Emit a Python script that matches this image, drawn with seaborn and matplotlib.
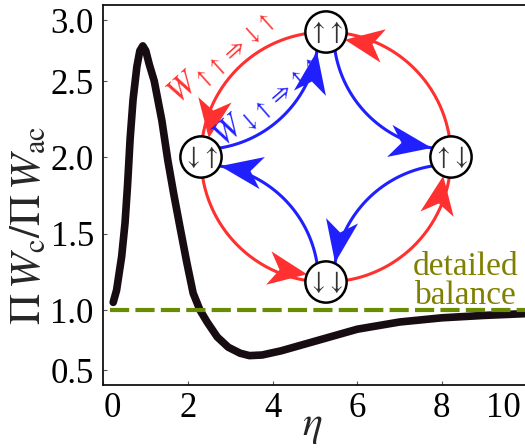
import numpy as np
import pandas as pd
import matplotlib
matplotlib.use("Agg")
import matplotlib.pyplot as plt
from matplotlib.patches import Circle, Polygon
from matplotlib.transforms import ScaledTranslation
import seaborn as sns

# curve
eta = [0.23, 0.31, 0.43, 0.51, 0.57, 0.63, 0.70, 0.79, 0.86, 0.93, 1.00, 1.08,
       1.20, 1.38, 1.52, 1.66, 1.81, 1.97, 2.12, 2.28, 2.45, 2.69, 2.95, 3.23,
       3.45, 3.75, 4.20, 5.00, 6.00, 7.00, 8.00, 9.00, 10.0]
ratio = [1.05, 1.13, 1.35, 1.57, 1.82, 2.12, 2.38, 2.62, 2.75, 2.79, 2.75, 2.64,
         2.50, 2.24, 1.98, 1.76, 1.54, 1.31, 1.11, 1.00, 0.90, 0.775, 0.69, 0.64,
         0.62, 0.625, 0.66, 0.74, 0.84, 0.90, 0.935, 0.955, 0.97]
balance_level = 1.0

x_ticks = [0, 2, 4, 6, 8, 10]
y_ticks = [0.5, 1.0, 1.5, 2.0, 2.5, 3.0]

# states of the cycle: top, left, bottom, right
node_labels = [r"$\uparrow\!\uparrow$", r"$\downarrow\!\uparrow$",
               r"$\downarrow\!\downarrow$", r"$\uparrow\!\downarrow$"]
red_label = r"$W_{\uparrow\uparrow\Rightarrow\downarrow\uparrow}$"
blue_label = r"$W_{\downarrow\uparrow\Rightarrow\uparrow\uparrow}$"

RED = "#ff3030"
BLUE = "#2020ff"

# the y axis of the original is not evenly spaced between ticks
Y_KNOTS = [0.0, 0.5, 1.0, 1.5, 2.0, 2.5, 3.0, 3.5]
U_KNOTS = [-45, 15, 75, 151.5, 228, 304, 364.5, 424.5]


def fwd(y):
    return np.interp(y, Y_KNOTS, U_KNOTS)


def inv(u):
    return np.interp(u, U_KNOTS, Y_KNOTS)


def arrowhead(ax, tip, direction, length, width, color):
    d = np.asarray(direction, float)
    d = d / np.hypot(*d)
    n = np.array([-d[1], d[0]])
    tip = np.asarray(tip, float)
    back = tip - d * length
    pts = [tip, back + n * width / 2, tip - d * length * 0.72, back - n * width / 2]
    ax.add_patch(Polygon(pts, closed=True, color=color, lw=0, zorder=3))


def draw_cycle(dax):
    node_r = 0.165
    th = np.linspace(0, 2 * np.pi, 400)
    dax.plot(np.cos(th), np.sin(th), color=RED, lw=2.2, zorder=2)

    node_angles = [90, 180, 270, 0]
    # red: counter-clockwise, arrowhead just before each state
    for a in node_angles:
        t = np.deg2rad(a) - 0.16
        tip = 0.95 * np.array([np.cos(t), np.sin(t)])
        arrowhead(dax, tip, (-np.sin(t), np.cos(t)), 0.31, 0.27, RED)

    # blue: clockwise, quarter arcs bent towards the centre
    rho = 0.94
    for (cx, cy), phi0 in [((-1, 1), -90), ((1, 1), 180), ((1, -1), 90), ((-1, -1), 0)]:
        ph = np.deg2rad(np.linspace(phi0, phi0 + 90, 120))
        dax.plot(cx + rho * np.cos(ph), cy + rho * np.sin(ph), color=BLUE, lw=2.2, zorder=2)
        pe = np.deg2rad(phi0 + 90) - 0.165
        tip = (cx + rho * np.cos(pe), cy + rho * np.sin(pe))
        arrowhead(dax, tip, (-np.sin(pe), np.cos(pe)), 0.34, 0.26, BLUE)

    for a, lab in zip(node_angles, node_labels):
        c = (np.cos(np.deg2rad(a)), np.sin(np.deg2rad(a)))
        dax.add_patch(Circle(c, node_r, fc="white", ec="black", lw=1.8, zorder=5))
        dax.text(c[0], c[1], lab, ha="center", va="center", fontsize=19,
                 color="#333333", zorder=6)

    dax.text(-0.84, 0.80, red_label, color=RED, fontsize=24, rotation=42,
             ha="center", va="center")
    dax.text(-0.47, 0.45, blue_label, color=BLUE, fontsize=24, rotation=41,
             ha="center", va="center")


def main():
    sns.set_style("ticks")
    plt.rcParams["font.family"] = ["Liberation Serif", "DejaVu Serif"]
    plt.rcParams["mathtext.fontset"] = "stix"

    fig = plt.figure(figsize=(5.25, 4.48), dpi=100)
    ax = fig.add_axes([0.1971, 0.1406, 0.8057, 0.8482])

    df = pd.DataFrame({"eta": eta, "ratio": ratio})
    sns.lineplot(data=df, x="eta", y="ratio", ax=ax, color="#170c12", lw=5.5,
                 solid_capstyle="round", solid_joinstyle="round", zorder=3)
    ax.axhline(balance_level, xmin=0.015, color="#6a8c00", lw=3,
               dashes=(4.6, 1.5), zorder=4)

    ax.set_yscale("function", functions=(fwd, inv))
    ax.set_xlim(0, 10)
    ax.set_ylim(0.375, 3.129)
    ax.set_xticks(x_ticks)
    ax.set_xticklabels([str(t) for t in x_ticks])
    ax.set_yticks(y_ticks)
    ax.set_yticklabels([f"{t:.1f}" for t in y_ticks])
    ax.minorticks_off()
    ax.tick_params(direction="in", length=3, width=0.8, color="#555555",
                   labelsize=25, labelcolor="black")
    ax.tick_params(axis="y", pad=7)
    ax.tick_params(axis="x", pad=5)
    xl = ax.get_xticklabels()
    xl[0].set_ha("left")
    xl[-1].set_ha("right")
    xl[-1].set_transform(xl[-1].get_transform() + ScaledTranslation(-6 / 100, 0, fig.dpi_scale_trans))

    for side in ["left", "bottom", "top", "right"]:
        ax.spines[side].set_color("#111111")
        ax.spines[side].set_linewidth(1.3)

    ax.set_xlabel(r"$\eta$", fontsize=30)
    ax.xaxis.set_label_coords(0.493, -0.06)
    ax.set_ylabel(r"$\Pi\,W_{\rm c}/\Pi\,W_{\rm ac}$", fontsize=31)
    ax.yaxis.set_label_coords(-0.128, 0.42)

    ax.text(0.857, 0.195, "detailed\nbalance", transform=ax.transAxes,
            ha="center", va="bottom", color="#808000", fontsize=24, linespacing=0.95)

    # inset for the cycle: 125 px per unit, centre at (326, 157) px, kept inside the figure
    dax = fig.add_axes([156 / 525, 1 - 327 / 448, 340 / 525, 327 / 448])
    dax.set_xlim(-1.36, 1.36)
    dax.set_ylim(-1.36, 157 / 125)
    dax.axis("off")
    dax.patch.set_alpha(0)
    draw_cycle(dax)

    fig.savefig("out.png", dpi=100)
    plt.close(fig)


if __name__ == "__main__":
    main()
